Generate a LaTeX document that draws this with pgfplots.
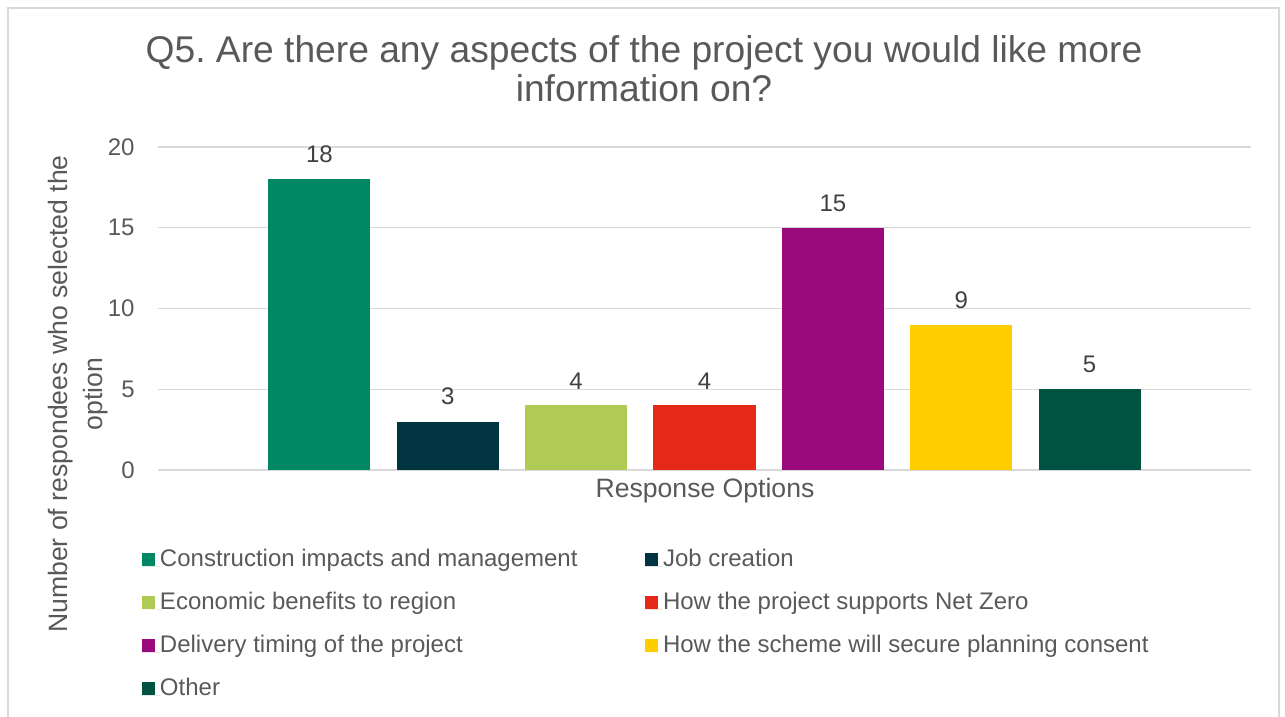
\documentclass[border=0pt]{standalone}
\usepackage{fontspec}
\setmainfont{Liberation Sans}
\usepackage{pgfplots}
\pgfplotsset{compat=1.18}
\frenchspacing

\definecolor{cA}{HTML}{008764}
\definecolor{cB}{HTML}{003440}
\definecolor{cC}{HTML}{AFCB55}
\definecolor{cD}{HTML}{E52817}
\definecolor{cE}{HTML}{9B0A7D}
\definecolor{cF}{HTML}{FFCD00}
\definecolor{cG}{HTML}{005242}
\definecolor{txt}{HTML}{595959}
\definecolor{lbl}{HTML}{404040}
\definecolor{gridc}{HTML}{D9D9D9}

\newcommand{\colone}[1]{\makebox[242.5pt][l]{#1}}

\begin{document}
\begin{tikzpicture}
\useasboundingbox (0,0) rectangle (642.5pt,-358.5pt);
% chart area frame (bottom edge is off the page)
\draw[gridc, line width=0.75pt] (4pt,-380pt) -- (4pt,-4pt) -- (639.5pt,-4pt) -- (639.5pt,-380pt);

% title
\node[anchor=base, text=txt, font=\fontsize{18.6}{20}\selectfont] at (322pt,-31.5pt)
  {Q5. Are there any aspects of the project you would like more};
\node[anchor=base, text=txt, font=\fontsize{18.6}{20}\selectfont] at (322pt,-51pt)
  {information on?};

% y axis title
\node[anchor=base, rotate=90, text=txt, font=\fontsize{13.3}{16}\selectfont] at (33.5pt,-197pt)
  {Number of respondees who selected the};
\node[anchor=base, rotate=90, text=txt, font=\fontsize{13.3}{16}\selectfont] at (51pt,-197pt)
  {option};

% x axis title
\node[anchor=base, text=txt, font=\fontsize{13.3}{16}\selectfont] at (352.5pt,-248.5pt)
  {Response Options};

\begin{axis}[
  at={(79pt,-235pt)}, anchor=south west,
  scale only axis, width=546.5pt, height=161.5pt,
  xmin=-1.258, xmax=7.258, ymin=0, ymax=20,
  ybar, bar shift=0pt, bar width=0.795,
  axis line style={draw=none}, major tick length=0pt,
  xtick=\empty, ytick={0,5,10,15,20},
  ymajorgrids, grid style={gridc, line width=0.6pt},
  yticklabel style={font=\fontsize{12}{14}\selectfont, text=txt, inner sep=0pt, xshift=-11.5pt},
  /pgf/number format/assume math mode=true,
  nodes near coords,
  every node near coord/.append style={font=\fontsize{12}{14}\selectfont, text=lbl,
    inner sep=0pt, anchor=south, yshift=8pt},
  legend columns=2,
  legend cell align=left,
  legend style={at={(0,0)}, anchor=north west, xshift=-8pt, yshift=-39.3pt,
    draw=none, fill=none, inner sep=0pt, outer sep=0pt,
    /tikz/column sep=0pt, row sep=9.5pt,
    cells={anchor=base west},
    nodes={inner sep=0pt, text=txt, font=\fontsize{12}{14}\selectfont,
      text height=9pt, text depth=3pt}},
  legend image code/.code={%
    \path (0pt,0pt) -- (9pt,0pt);
    \fill[#1, draw=none] (0pt,0.5pt) rectangle (6.5pt,7pt);},
]
\addplot[fill=cA, draw=none] coordinates {(0,18)};
\addlegendentry{\colone{Construction impacts and management}}
\addplot[fill=cB, draw=none] coordinates {(1,3)};
\addlegendentry{Job creation}
\addplot[fill=cC, draw=none] coordinates {(2,4)};
\addlegendentry{\colone{Economic benefits to region}}
\addplot[fill=cD, draw=none] coordinates {(3,4)};
\addlegendentry{How the project supports Net Zero}
\addplot[fill=cE, draw=none] coordinates {(4,15)};
\addlegendentry{\colone{Delivery timing of the project}}
\addplot[fill=cF, draw=none] coordinates {(5,9)};
\addlegendentry{How the scheme will secure planning consent}
\addplot[fill=cG, draw=none] coordinates {(6,5)};
\addlegendentry{\colone{Other}}
\end{axis}
\end{tikzpicture}
\end{document}
